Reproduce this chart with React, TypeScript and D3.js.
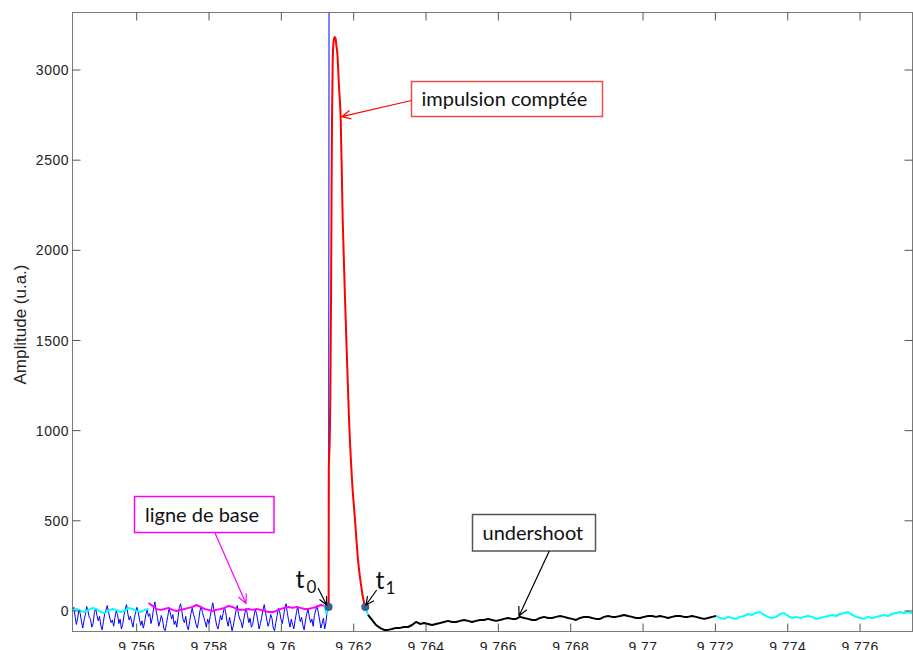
import React from "react";
import * as d3 from "d3";

// ---- axes ----
const xTicks = [9.756, 9.758, 9.76, 9.762, 9.764, 9.766, 9.768, 9.77, 9.772, 9.774, 9.776];
const yTicks = [0, 500, 1000, 1500, 2000, 2500, 3000];
const xDomain = [9.754225, 9.77745];
const yDomain = [-114, 3319];

// ---- raw signal (blue), uniform sampling from blueStart to t0 ----
const blueStart = 9.754225;
const blueEnd = 9.761306;
const blueNoise = [
  -5, 20, -30, -75, -40, 10, -15, -60, -95, -50, -20, 25, 0, -35, -45, -90, -70, -10, 15, -25,
  -55, -30, -80, -105, -60, -15, 5, 30, -5, -40, -65, -50, -85, -35, 0, -20, -70, -45, -100, -75,
  -25, 10, 35, -15, -50, -30, -60, -90, -40, -10,
  20, -5, -45, -80, -55, -95, -65, -20, 5, -30, -15, -70, -40, 15, 50, 0, -35, -85, -60, -25,
  -50, -100, -110, -70, -30, 10, -10, -45, -20, -75, -55, -90, -35, 20, 40, -5, -50, -65, -30, -85,
  -105, -60, -15, 15, -20, -40, -75, -95, -55, 0,
  25, -10, -35, -60, -90, -45, -70, -30, 10, 45, 5, -40, -80, -100, -65, -25, -50, -15, 20, -5,
  -55, -85, -35, -70, -110, -80, -40, 0, 30, -20, -45, -60, -95, -50, -10, 15, -25, -65, -40, -90,
  -75, -30, 10, -15, -55, -100, -70, -35, 5, 35,
  -10, -50, -85, -60, -20, -40, -95, -110, -65, -25, 15, -5, -45, -70, -30, 20, 40, -15, -55, -90,
  -45, -75, -100, -50, -10, 25, -20, -60, -35, -80, -105, -55, -15, 10, -30, -65, -45, -85, -25, 5,
  30, -10, -50, -95, -70, -40, -100, -60, 10, 22];
const blueSpikeT = [9.761328];
const blueSpikeV = [6000];

// ---- counted pulse (red) ----
const redT = [9.761306, 9.761311, 9.761337, 9.761353, 9.761373, 9.761387, 9.7614, 9.76142, 9.761442, 9.76147,
  9.761497, 9.761519, 9.761547, 9.761594, 9.761641, 9.761696, 9.761779, 9.761871, 9.761953, 9.762036,
  9.762119, 9.762202, 9.762258, 9.762321];
const redV = [22, 782, 948, 1170, 1725, 2279, 2723, 3055, 3155, 3183,
  3177, 3138, 3094, 2906, 2723, 2168, 1614, 1059, 726, 505,
  283, 144, 72, 22];

// ---- smoothed signal segments, step of 4 px-equivalent ----
const smoothStep = 0.00011061;
const cyanLeftStart = 9.754225;
const cyanLeft = [5, 11, 0, -6, 6, 17, 11, -6, -11, 0, 11, 6, -6, 0, 17, 11, 0, -6, 6, 11];
const baselineStart = 9.756326;
const baseline = [44, 28, 11, 6, 11, 17, 6, 0, 6, 11, 17, 22, 33, 22, 11, 6, 0, 6, 11, 17,
  28, 22, 11, 6, 6, 11, 6, 11, 6, 0, -6, -6, 0, 11, 17, 22, 17, 22, 17, 11,
  11, 17, 22, 33, 28];
const cyanMidT = [9.761193, 9.761248, 9.761306];
const cyanMidV = [28, -15, 22];
const cyanPostT = [9.762321, 9.762396];
const cyanPostV = [22, -22];
const undershootStart = 9.762396;
const undershoot = [-22, -50, -78, -94, -105, -105, -100, -94, -94, -89,
  -89, -78, -61, -72, -67, -72, -78, -72, -67, -61,
  -55, -61, -61, -55, -50, -55, -61, -55, -50, -50,
  -44, -50, -55, -50, -44, -39, -44, -44, -33, -39,
  -44, -50, -50, -39, -33, -39, -39, -33, -28, -33,
  -39, -44, -50, -39, -33, -33, -39, -44, -44, -33,
  -28, -33, -33, -28, -22, -28, -33, -39, -39, -33,
  -28, -28, -33, -28, -33, -39, -33, -28, -28, -33,
  -33, -28, -33, -39, -44, -39, -33, -28];
const cyanRightStart = 9.772019;
const cyanRight = [-28, -39, -44, -33, -39, -44, -33, -28, -17, -22, -11, -6, -22, -33, -39, -33, -17, -11, -28, -39,
  -33, -39, -33, -28, -33, -44, -39, -33, -28, -22, -28, -17, -11, -6, -22, -33, -39, -44, -33, -39,
  -33, -28, -22, -28, -17, -11, -6, -11, -6, -11, -6];

// ---- t0 / t1 markers ----
const markerT = [9.761306, 9.762321];
const markerV = [22, 22];

const W = 913, H = 650;
const L = 72.5, R = 912.5, T = 12.5, B = 631.5;

type P = [number, number];
const uniform = (start: number, step: number, vals: number[]): P[] => vals.map((v, i) => [start + i * step, v]);
const paired = (ts: number[], vs: number[]): P[] => ts.map((t, i) => [t, vs[i]]);

function arrowHead(x1: number, y1: number, x2: number, y2: number, len = 10, ang = 0.45) {
  const a = Math.atan2(y2 - y1, x2 - x1);
  const w1 = [x2 - len * Math.cos(a - ang), y2 - len * Math.sin(a - ang)];
  const w2 = [x2 - len * Math.cos(a + ang), y2 - len * Math.sin(a + ang)];
  return `M${x1},${y1}L${x2},${y2}M${w1[0]},${w1[1]}L${x2},${y2}L${w2[0]},${w2[1]}`;
}

export default function App() {
  const x = d3.scaleLinear().domain(xDomain).range([L, R]);
  const y = d3.scaleLinear().domain(yDomain).range([B, T]);
  const line = d3.line<P>().x((d) => x(d[0])).y((d) => y(d[1]));
  const smooth = d3.line<P>().x((d) => x(d[0])).y((d) => y(d[1])).curve(d3.curveMonotoneX);

  const blueStep = (blueEnd - blueStart) / (blueNoise.length - 1);
  const blueData = [...uniform(blueStart, blueStep, blueNoise), ...paired(blueSpikeT, blueSpikeV)];
  const fmt = (t: number) => String(+t.toFixed(3));
  const tickCol = "#555";
  const labelFont = "'Liberation Sans', Arial, Helvetica, sans-serif";
  const annFont = "Lato, 'Open Sans', sans-serif";

  return (
    <svg width={W} height={H} style={{ position: "absolute", left: 0, top: 0, background: "#fff" }}>
      <defs>
        <clipPath id="plot">
          <rect x={L} y={T} width={R - L} height={B - T} />
        </clipPath>
      </defs>
      <rect x={0} y={0} width={W} height={H} fill="#fff" />

      <g clipPath="url(#plot)" fill="none" strokeLinejoin="round">
        <path d={line(blueData) || ""} stroke="#0000ff" strokeWidth={1} />
        <path d={line(uniform(cyanLeftStart, smoothStep, cyanLeft)) || ""} stroke="#00ffff" strokeWidth={2} />
        <path d={line(uniform(baselineStart, smoothStep, baseline)) || ""} stroke="#ff00ff" strokeWidth={2} />
        <path d={line(paired(cyanMidT, cyanMidV)) || ""} stroke="#00ffff" strokeWidth={2} />
        <path d={smooth(paired(redT, redV)) || ""} stroke="#ff0000" strokeWidth={2} />
        <path d={line(paired(cyanPostT, cyanPostV)) || ""} stroke="#00ffff" strokeWidth={2} />
        <path d={line(uniform(undershootStart, smoothStep, undershoot)) || ""} stroke="#000" strokeWidth={2} />
        <path d={line(uniform(cyanRightStart, smoothStep, cyanRight)) || ""} stroke="#00ffff" strokeWidth={2} />
        {markerT.map((t, i) => (
          <circle key={i} cx={x(t)} cy={y(markerV[i])} r={4} fill="#3f5f8c" />
        ))}
      </g>

      {/* frame */}
      <rect x={L} y={T} width={R - L} height={B - T} fill="none" stroke="#7a7a7a" strokeWidth={1} />
      {xTicks.map((t) => (
        <g key={t}>
          <line x1={x(t)} x2={x(t)} y1={B} y2={B - 8} stroke={tickCol} />
          <line x1={x(t)} x2={x(t)} y1={T} y2={T + 8} stroke={tickCol} />
          <text x={x(t)} y={652} textAnchor="middle" fontFamily={labelFont} fontSize={14} fill="#222" letterSpacing={0.4}>
            {fmt(t)}
          </text>
        </g>
      ))}
      {yTicks.map((v) => (
        <g key={v}>
          <line x1={L} x2={L + 8} y1={y(v)} y2={y(v)} stroke={tickCol} />
          <line x1={R} x2={R - 8} y1={y(v)} y2={y(v)} stroke={tickCol} />
          <text x={69} y={y(v)} dy="0.36em" textAnchor="end" fontFamily={labelFont} fontSize={14} fill="#222" letterSpacing={0.5}>
            {v}
          </text>
        </g>
      ))}
      <text transform={`translate(25.5,${324.5}) rotate(-90)`} textAnchor="middle" fontFamily={labelFont} fontSize={17} fill="#222">
        Amplitude (u.a.)
      </text>

      {/* annotations */}
      <g fontFamily={annFont} fontSize={20} fill="#111">
        <rect x={411.5} y={81.5} width={191} height={35} fill="#fff" stroke="#f04a4a" strokeWidth={1.5} />
        <text x={421.5} y={106}>impulsion comptée</text>
        <path d={arrowHead(411.5, 100.5, 341.7, 116.7)} fill="none" stroke="#ff0000" strokeWidth={1.2} />

        <rect x={134.5} y={496.5} width={139.5} height={36} fill="#fff" stroke="#ff00ff" strokeWidth={1.5} />
        <text x={145} y={522}>ligne de base</text>
        <path d={arrowHead(215, 533, 246, 603.5)} fill="none" stroke="#ff00ff" strokeWidth={1.2} />

        <rect x={472.5} y={514.5} width={123} height={36.5} fill="#fff" stroke="#555" strokeWidth={1.5} />
        <text x={482.5} y={540}>undershoot</text>
        <path d={arrowHead(549.3, 551, 519, 616)} fill="none" stroke="#000" strokeWidth={1.2} />

        <text x={295.5} y={588} fontSize={25}>t</text>
        <text x={306.5} y={593} fontSize={17}>0</text>
        <path d={arrowHead(318, 588, 326.7, 605, 9)} fill="none" stroke="#000" strokeWidth={1.2} />

        <text x={375.5} y={589} fontSize={25}>t</text>
        <text x={385.5} y={594} fontSize={17}>1</text>
        <path d={arrowHead(376.7, 590, 366, 605, 9)} fill="none" stroke="#000" strokeWidth={1.2} />
      </g>
    </svg>
  );
}
